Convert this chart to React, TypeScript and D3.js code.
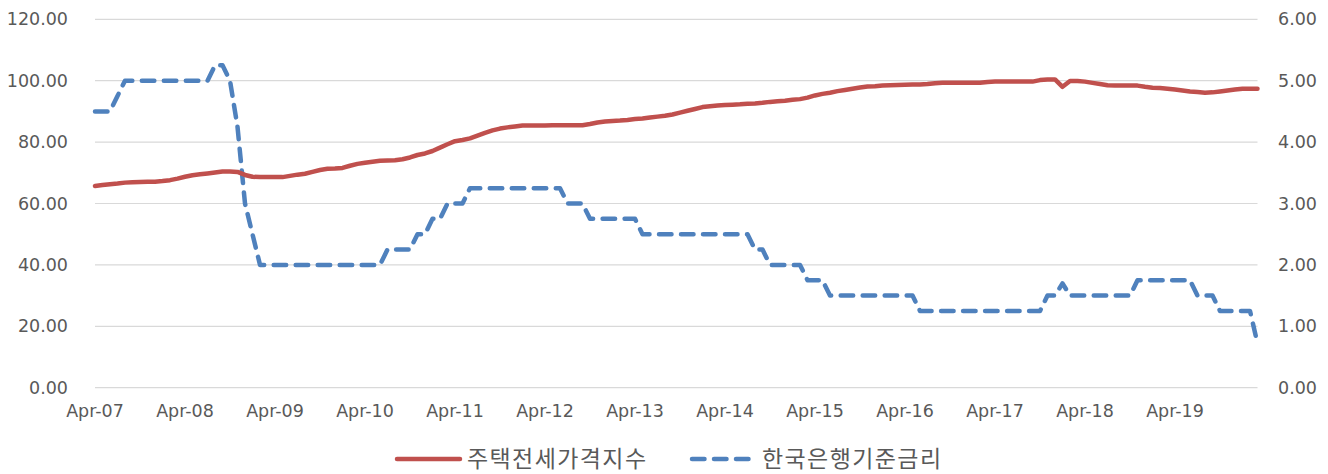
import React, { useEffect, useRef } from 'react';
import * as d3 from 'd3';

// monthly, Apr 2007 - Mar 2020
const START = new Date(2007, 3, 1);

// 주택전세가격지수 (left axis)
const rentIndex = [
  65.7, 66.0, 66.3, 66.5, 66.8, 66.9, 67.0, 67.1, 67.1, 67.3, 67.6, 68.1,
  68.7, 69.2, 69.5, 69.8, 70.1, 70.4, 70.4, 70.3, 69.3, 68.7, 68.6, 68.6,
  68.6, 68.6, 69.0, 69.4, 69.7, 70.3, 70.9, 71.3, 71.4, 71.6, 72.3, 72.9,
  73.3, 73.6, 73.9, 74.0, 74.1, 74.4, 75.0, 75.8, 76.3, 77.1, 78.2, 79.3,
  80.3, 80.7, 81.2, 82.1, 83.0, 83.8, 84.4, 84.8, 85.1, 85.4, 85.4, 85.4,
  85.4, 85.5, 85.5, 85.5, 85.5, 85.5, 85.9, 86.4, 86.7, 86.9, 87.0, 87.2,
  87.5, 87.7, 88.0, 88.3, 88.6, 89.0, 89.6, 90.2, 90.8, 91.4, 91.7, 91.9,
  92.1, 92.2, 92.3, 92.5, 92.6, 92.8, 93.1, 93.3, 93.5, 93.8, 94.0, 94.5,
  95.2, 95.7, 96.1, 96.6, 97.0, 97.4, 97.8, 98.1, 98.2, 98.4, 98.5, 98.6,
  98.7, 98.8, 98.8, 98.9, 99.2, 99.3, 99.3, 99.3, 99.3, 99.3, 99.3, 99.6,
  99.7, 99.7, 99.7, 99.7, 99.7, 99.7, 100.2, 100.4, 100.4, 98.0, 99.9, 99.9,
  99.7, 99.3, 98.9, 98.5, 98.4, 98.4, 98.4, 98.4, 98.0, 97.7, 97.6, 97.4,
  97.1, 96.8, 96.5, 96.3, 96.1, 96.2, 96.5, 96.8, 97.1, 97.4, 97.4, 97.4,
];

// 한국은행기준금리 (right axis)
const baseRate = [
  4.5, 4.5, 4.5, 4.75, 5.0, 5.0, 5.0, 5.0, 5.0, 5.0, 5.0, 5.0,
  5.0, 5.0, 5.0, 5.0, 5.25, 5.25, 5.0, 4.25, 3.0, 2.5, 2.0, 2.0,
  2.0, 2.0, 2.0, 2.0, 2.0, 2.0, 2.0, 2.0, 2.0, 2.0, 2.0, 2.0,
  2.0, 2.0, 2.0, 2.25, 2.25, 2.25, 2.25, 2.5, 2.5, 2.75, 2.75, 3.0,
  3.0, 3.0, 3.25, 3.25, 3.25, 3.25, 3.25, 3.25, 3.25, 3.25, 3.25, 3.25,
  3.25, 3.25, 3.25, 3.0, 3.0, 3.0, 2.75, 2.75, 2.75, 2.75, 2.75, 2.75,
  2.75, 2.5, 2.5, 2.5, 2.5, 2.5, 2.5, 2.5, 2.5, 2.5, 2.5, 2.5,
  2.5, 2.5, 2.5, 2.5, 2.25, 2.25, 2.0, 2.0, 2.0, 2.0, 2.0, 1.75,
  1.75, 1.75, 1.5, 1.5, 1.5, 1.5, 1.5, 1.5, 1.5, 1.5, 1.5, 1.5,
  1.5, 1.5, 1.25, 1.25, 1.25, 1.25, 1.25, 1.25, 1.25, 1.25, 1.25, 1.25,
  1.25, 1.25, 1.25, 1.25, 1.25, 1.25, 1.25, 1.5, 1.5, 1.7, 1.5, 1.5,
  1.5, 1.5, 1.5, 1.5, 1.5, 1.5, 1.5, 1.75, 1.75, 1.75, 1.75, 1.75,
  1.75, 1.75, 1.75, 1.5, 1.5, 1.5, 1.25, 1.25, 1.25, 1.25, 1.25, 0.72,
];

const leftTicks = [0, 20, 40, 60, 80, 100, 120];
const rightTicks = [0, 1, 2, 3, 4, 5, 6];
const seriesNames = ['주택전세가격지수', '한국은행기준금리'];

const W = 1328;
const H = 474;
const RED = '#C0504D';
const BLUE = '#4F81BD';
const TXT = '#595959';
const FONT = '"DejaVu Sans", sans-serif';
const KFONT = '"Noto Sans CJK KR", sans-serif';

const App = () => {
  const svgRef = useRef<SVGSVGElement>(null);

  useEffect(() => {
    const svg = d3.select(svgRef.current);
    svg.selectAll('*').remove();

    const months = rentIndex.map((_, i) => d3.timeMonth.offset(START, i));
    const fmt = d3.timeFormat('%b-%y');

    const x = d3.scaleLinear().domain([0, months.length - 1]).range([95, 1257.5]);
    const yL = d3.scaleLinear().domain([0, 120]).range([387.7, 19.3]);
    const yR = d3.scaleLinear().domain([0, 6]).range([387.7, 19.3]);

    // gridlines
    svg.append('g')
      .selectAll('line')
      .data(leftTicks)
      .enter()
      .append('line')
      .attr('x1', x(0))
      .attr('x2', x(months.length - 1))
      .attr('y1', d => yL(d))
      .attr('y2', d => yL(d))
      .attr('stroke', '#D9D9D9')
      .attr('stroke-width', 1.2);

    // left axis labels
    svg.append('g')
      .selectAll('text')
      .data(leftTicks)
      .enter()
      .append('text')
      .attr('x', 68)
      .attr('y', d => yL(d))
      .attr('dy', '0.35em')
      .attr('text-anchor', 'end')
      .attr('font-family', FONT)
      .attr('font-size', 17.5)
      .attr('fill', TXT)
      .text(d => d.toFixed(2));

    // right axis labels
    svg.append('g')
      .selectAll('text')
      .data(rightTicks)
      .enter()
      .append('text')
      .attr('x', 1278)
      .attr('y', d => yR(d))
      .attr('dy', '0.35em')
      .attr('text-anchor', 'start')
      .attr('font-family', FONT)
      .attr('font-size', 17.5)
      .attr('fill', TXT)
      .text(d => d.toFixed(2));

    // x labels, every 12 months
    const tickIdx = d3.range(0, months.length, 12);
    svg.append('g')
      .selectAll('text')
      .data(tickIdx)
      .enter()
      .append('text')
      .attr('x', d => x(d))
      .attr('y', 417)
      .attr('text-anchor', 'middle')
      .attr('font-family', FONT)
      .attr('font-size', 17.5)
      .attr('fill', TXT)
      .text(d => fmt(months[d]));

    const lineL = d3.line<number>().x((_, i) => x(i)).y(d => yL(d));
    const lineR = d3.line<number>().x((_, i) => x(i)).y(d => yR(d));

    svg.append('path')
      .datum(baseRate)
      .attr('d', lineR)
      .attr('fill', 'none')
      .attr('stroke', BLUE)
      .attr('stroke-width', 4.5)
      .attr('stroke-dasharray', '12.5 9.5')
      .attr('stroke-linecap', 'round')
      .attr('stroke-linejoin', 'round');

    svg.append('path')
      .datum(rentIndex)
      .attr('d', lineL)
      .attr('fill', 'none')
      .attr('stroke', RED)
      .attr('stroke-width', 4.5)
      .attr('stroke-linecap', 'round')
      .attr('stroke-linejoin', 'round');

    // legend
    const legend = svg.append('g');
    const ly = 459;
    legend.append('line')
      .attr('x1', 397).attr('x2', 460).attr('y1', ly).attr('y2', ly)
      .attr('stroke', RED).attr('stroke-width', 4.5).attr('stroke-linecap', 'round');
    legend.append('text')
      .attr('x', 467).attr('y', ly).attr('dy', '0.36em')
      .attr('font-family', KFONT)
      .attr('font-size', 23).attr('letter-spacing', 1.4).attr('fill', TXT)
      .text(seriesNames[0]);
    legend.append('line')
      .attr('x1', 692).attr('x2', 752).attr('y1', ly).attr('y2', ly)
      .attr('stroke', BLUE).attr('stroke-width', 4.5)
      .attr('stroke-dasharray', '12.5 9.5').attr('stroke-linecap', 'round');
    legend.append('text')
      .attr('x', 762).attr('y', ly).attr('dy', '0.36em')
      .attr('font-family', KFONT)
      .attr('font-size', 23).attr('letter-spacing', 1.4).attr('fill', TXT)
      .text(seriesNames[1]);
  }, []);

  return (
    <svg
      ref={svgRef}
      width={W}
      height={H}
      style={{ position: 'absolute', left: 0, top: 0, background: '#fff' }}
    />
  );
};

export default App;
